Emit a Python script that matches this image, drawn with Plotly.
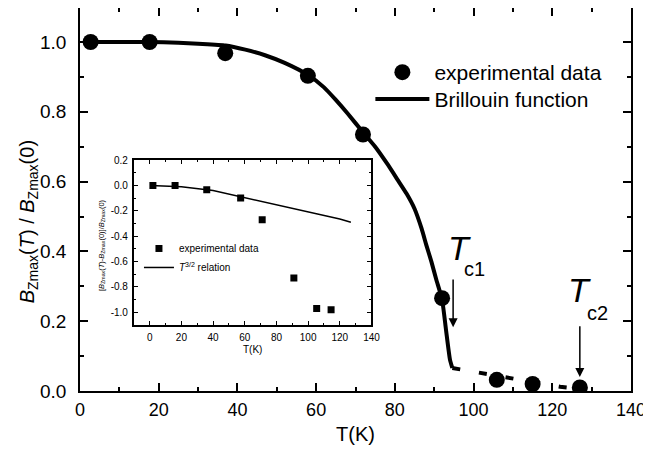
import plotly.graph_objects as go

# ---- main data ----
exp_T = [2.7, 17.7, 36.9, 57.9, 71.9, 92.0, 105.9, 115.0, 127.0]
exp_B = [1.0, 1.0, 0.968, 0.903, 0.735, 0.266, 0.032, 0.020, 0.010]

bril_T = [3, 17.7, 25, 30, 37, 42, 47, 52, 58, 62, 65, 68, 72, 75, 78, 81, 83, 85,
          86.8, 88, 89.3, 90.5, 92, 93, 94, 94.6]
bril_B = [1.0, 1.0, 0.998, 0.995, 0.99, 0.978, 0.962, 0.94, 0.905, 0.87, 0.834, 0.795,
          0.74, 0.70, 0.652, 0.60, 0.565, 0.522, 0.465, 0.418, 0.37, 0.32, 0.262, 0.175,
          0.09, 0.066]

tail_T = [94.6, 101.5, 108.3, 115.0, 122.0, 127.0]
tail_B = [0.066, 0.052, 0.037, 0.024, 0.012, 0.006]

# ---- inset data ----
ins_T = [2.0, 16.0, 36.0, 57.4, 71.0, 91.0, 105.4, 114.5]
ins_V = [0.0, 0.0, -0.035, -0.10, -0.27, -0.73, -0.97, -0.98]

rel_T = [0.6, 20, 40, 60, 80, 100, 120, 127]
rel_V = [0.0, -0.01, -0.04, -0.096, -0.15, -0.21, -0.265, -0.29]

main_xticks = [0, 20, 40, 60, 80, 100, 120, 140]
main_yticks = [0.0, 0.2, 0.4, 0.6, 0.8, 1.0]
ins_xticks = [0, 20, 40, 60, 80, 100, 120, 140]
ins_yticks = [0.2, 0.0, -0.2, -0.4, -0.6, -0.8, -1.0]
ins_ytext = ["0.2", "0.0", "-0.2", "-0.4", "-0.6", "-0.8", "-1.0"]

FONT = "Liberation Sans, Arial, sans-serif"

fig = go.Figure()
fig.add_trace(go.Scatter(x=bril_T, y=bril_B, mode="lines", name="Brillouin function",
                         line=dict(color="black", width=4, shape="spline", smoothing=0.5),
                         legend="legend3"))
fig.add_trace(go.Scatter(x=tail_T, y=tail_B, mode="lines", showlegend=False,
                         line=dict(color="black", width=4, dash="8px,19px")))
fig.add_trace(go.Scatter(x=exp_T, y=exp_B, mode="markers", name="experimental data",
                         marker=dict(color="black", size=16), legend="legend"))

fig.add_trace(go.Scatter(x=rel_T, y=rel_V, mode="lines", name="<i>T</i><sup>3/2</sup> relation",
                         line=dict(color="black", width=1.5), xaxis="x2", yaxis="y2",
                         legend="legend2", legendrank=2))
fig.add_trace(go.Scatter(x=ins_T, y=ins_V, mode="markers", name="experimental data",
                         marker=dict(color="black", size=7, symbol="square"),
                         xaxis="x2", yaxis="y2", legend="legend2", legendrank=1))

axis_common = dict(showline=True, linecolor="black", mirror="ticks", ticks="inside",
                   tickcolor="black", showgrid=False, zeroline=False, automargin=False)

# page body has an 8px margin: figure is sized/offset to compensate
fig.update_layout(
    width=643, height=437,
    margin=dict(l=72, r=20, t=0, b=54),
    paper_bgcolor="white", plot_bgcolor="white",
    font=dict(family=FONT, color="black"),
    xaxis=dict(range=[0, 140], tickvals=main_xticks, ticklen=8, tickwidth=1.5, linewidth=1.5,
               minor=dict(dtick=10, ticklen=4, ticks="inside", tickcolor="black", tickwidth=1.5),
               tickfont=dict(size=18), ticklabelstandoff=2,
               title=dict(text="T(K)", font=dict(size=20), standoff=11), **axis_common),
    yaxis=dict(range=[0, 1.0974], tickvals=main_yticks, tickformat=".1f", ticklen=8, tickwidth=1.5,
               linewidth=1.5,
               minor=dict(dtick=0.1, ticklen=4, ticks="inside", tickcolor="black", tickwidth=1.5),
               tickfont=dict(size=19), ticklabelstandoff=8, **axis_common),
    xaxis2=dict(domain=[0.0978, 0.529], anchor="y2", range=[-10, 140], tickvals=ins_xticks,
                ticklen=4, tickwidth=1, linewidth=2,
                minor=dict(dtick=10, ticklen=2, ticks="inside", tickcolor="black"),
                tickfont=dict(size=10), ticklabelstandoff=2,
                title=dict(text="T(K)", font=dict(size=10), standoff=4), **axis_common),
    yaxis2=dict(domain=[0.1723, 0.603], anchor="x2", range=[-1.1, 0.2], tickvals=ins_yticks,
                ticktext=ins_ytext, ticklen=4, tickwidth=1, linewidth=2,
                minor=dict(dtick=0.1, ticklen=2, ticks="inside", tickcolor="black"),
                tickfont=dict(size=10), ticklabelstandoff=2, **axis_common),
    legend=dict(x=0.527, y=0.885, xanchor="left", yanchor="top", bgcolor="rgba(0,0,0,0)",
                font=dict(size=21), itemwidth=54),
    legend3=dict(x=0.527, y=0.815, xanchor="left", yanchor="top", bgcolor="rgba(0,0,0,0)",
                 font=dict(size=21), itemwidth=54),
    legend2=dict(x=0.107, y=0.41, xanchor="left", yanchor="top", bgcolor="rgba(0,0,0,0)",
                 font=dict(size=10), tracegroupgap=0),
)

annots = [
    dict(text="<i>B</i><sub>Zmax</sub>(<i>T</i>) / <i>B</i><sub>Zmax</sub>(0)", xref="paper", yref="paper",
         x=-0.094, y=0.441, xanchor="center", yanchor="middle", textangle=-90, showarrow=False,
         font=dict(size=20)),
    dict(text="[<i>B</i><sub>Zmax</sub>(<i>T</i>)-<i>B</i><sub>Zmax</sub>(0)]/<i>B</i><sub>Zmax</sub>(0)",
         xref="paper", yref="paper", x=0.0399, y=0.381, xanchor="center", yanchor="middle",
         textangle=-90, showarrow=False, font=dict(size=7.5)),
    # Tc1
    dict(text="<i>T</i>", xref="x", yref="y", x=96.3, y=0.41, showarrow=False, font=dict(size=34)),
    dict(text="c1", xref="x", yref="y", x=100.3, y=0.35, showarrow=False, font=dict(size=20)),
    dict(x=94.8, y=0.183, ax=94.8, ay=0.324, xref="x", yref="y", axref="x", ayref="y", text="",
         showarrow=True, arrowhead=2, arrowsize=1.2, arrowwidth=1.5, arrowcolor="black"),
    # Tc2
    dict(text="<i>T</i>", xref="x", yref="y", x=127.0, y=0.29, showarrow=False, font=dict(size=34)),
    dict(text="c2", xref="x", yref="y", x=131.4, y=0.224, showarrow=False, font=dict(size=20)),
    dict(x=127.0, y=0.04, ax=127.0, ay=0.19, xref="x", yref="y", axref="x", ayref="y", text="",
         showarrow=True, arrowhead=2, arrowsize=1.2, arrowwidth=1.5, arrowcolor="black"),
]
fig.update_layout(annotations=annots)

fig.write_html("out.html")
